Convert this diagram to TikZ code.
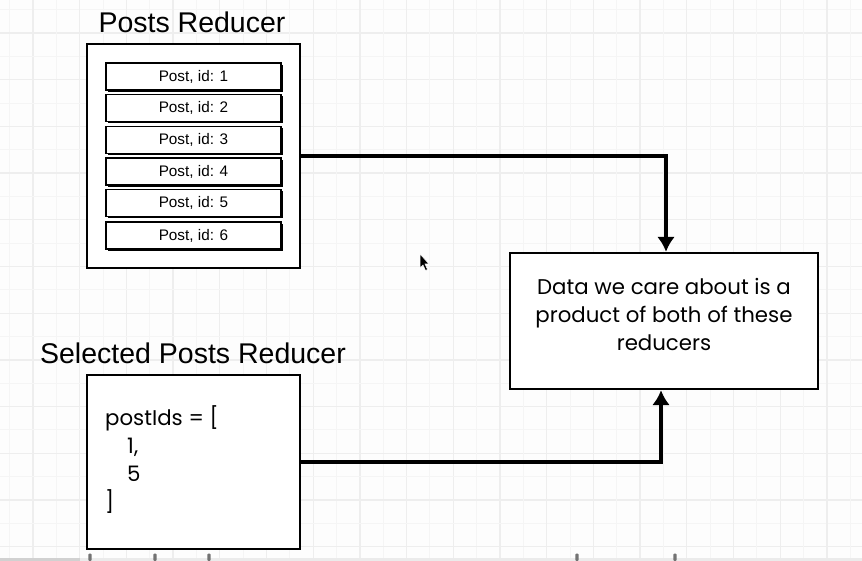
\documentclass[tikz,border=0pt]{standalone}
\usepackage{fontspec}
\setmainfont{Liberation Sans}
\newfontfamily\handfont{Poppins}
\usetikzlibrary{arrows.meta,shadows}
\definecolor{bgc}{HTML}{FDFDFD}
\definecolor{minorc}{HTML}{F5F5F5}
\definecolor{majorc}{HTML}{EEEEEE}
\tikzset{
  outerbox/.style={draw=black, fill=white, line width=2.4pt, inner sep=0pt},
  postbox/.style={draw=black, fill=white, line width=1.4pt, minimum width=175pt, minimum height=27pt, inner sep=0pt,
    drop shadow={shadow xshift=1.6pt, shadow yshift=-1.6pt, fill=black, opacity=1},
    font=\fontsize{15.3pt}{17pt}\selectfont},
  title/.style={font=\fontsize{28.5pt}{31pt}\selectfont, inner sep=0pt},
  handtext/.style={font=\handfont\fontsize{21.3pt}{28pt}\selectfont, inner sep=0pt},
  conn/.style={line width=3.3pt, -{Latex[length=15pt,width=18pt]}}
}
\begin{document}
\begin{tikzpicture}[x=1pt,y=-1pt]
\useasboundingbox (0,0) rectangle (862,561);
\fill[bgc] (0,0) rectangle (862,561);
% grid
\foreach \n in {0,...,36} {
  \pgfmathsetmacro\p{9.65+23.35*\n}
  \ifodd\n
    \draw[majorc, line width=1.3pt] (\p,0) -- (\p,561);
    \draw[majorc, line width=1.3pt] (0,\p) -- (862,\p);
  \else
    \draw[minorc, line width=1pt] (\p,0) -- (\p,561);
    \draw[minorc, line width=1pt] (0,\p) -- (862,\p);
  \fi
}
% Posts reducer
\node[title] (t1) at (192,22) {Posts Reducer};
\node[outerbox, minimum width=213pt, minimum height=224pt] (posts) at (193.5,156) {};
\node[postbox] (p1) at (193.5,76.5) {Post, id: 1};
\node[postbox] (p2) at (193.5,108) {Post, id: 2};
\node[postbox] (p3) at (193.5,140) {Post, id: 3};
\node[postbox] (p4) at (193.5,171.5) {Post, id: 4};
\node[postbox] (p5) at (193.5,203) {Post, id: 5};
\node[postbox] (p6) at (193.5,235.5) {Post, id: 6};
% Selected posts reducer
\node[title] (t2) at (193,353) {Selected Posts Reducer};
\node[outerbox, minimum width=213pt, minimum height=174pt] (sel) at (193.5,462) {};
\node[handtext, anchor=west, align=left] (code) at (105,460)
  {postIds = [\\\hspace*{22pt}1,\\\hspace*{22pt}5\\{]}};
% Data box
\node[outerbox, minimum width=308pt, minimum height=136pt] (data) at (664,321) {};
\node[handtext, align=center] (dtext) at (664,314)
  {Data we care about is a\\product of both of these\\reducers};
% connectors
\draw[conn] (posts.east) -| ([xshift=2pt]data.north);
\draw[conn] (sel.east) -| ([xshift=-3pt]data.south);
% mouse cursor
\draw[fill=black, draw=white, line width=0.5pt]
  (420,254) -- (420,268) -- (423,265) -- (425.5,270.5) -- (427.5,269.5) -- (425,264) -- (429,264) -- cycle;
% bottom bar
\fill[black!18] (0,557.5) rectangle (80,561);
\fill[black!8] (80,557.5) rectangle (862,561);
\foreach \x in {90,155,209,577,675} {
  \fill[black!55, rounded corners=1pt] (\x-1.6,553.5) rectangle (\x+1.6,561);
}
\end{tikzpicture}
\end{document}
